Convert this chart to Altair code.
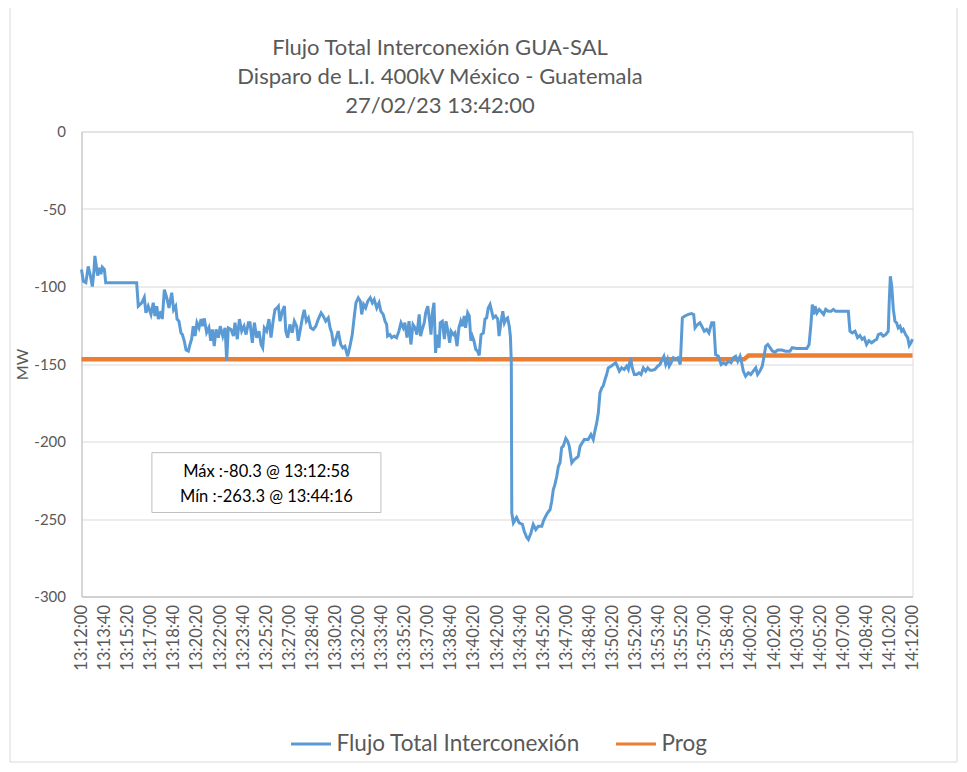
import altair as alt
import pandas as pd

# ---- data (seconds after 13:12:00, MW) ----
flujo_seg = [
    0, 8, 19, 29, 37, 47, 54, 58, 70, 77,
    84, 90, 99, 105, 239, 246, 261, 272, 279, 289,
    301, 311, 318, 326, 333, 344, 350, 359, 369, 379,
    391, 399, 408, 414, 422, 431, 437, 445, 453, 463,
    470, 477, 484, 492, 500, 509, 518, 525, 532, 542,
    552, 560, 567, 575, 583, 593, 601, 612, 622, 629,
    636, 648, 658, 665, 675, 684, 694, 704, 713, 723,
    730, 740, 749, 759, 769, 778, 785, 792, 802, 812,
    821, 830, 838, 847, 853, 860, 870, 879, 885, 893,
    903, 913, 922, 932, 939, 948, 957, 965, 974, 983,
    993, 1004, 1015, 1026, 1038, 1047, 1058, 1069, 1077, 1084,
    1093, 1102, 1112, 1123, 1132, 1141, 1153, 1163, 1173, 1182,
    1189, 1199, 1208, 1214, 1222, 1231, 1240, 1251, 1260, 1268,
    1279, 1289, 1297, 1307, 1315, 1322, 1326, 1336, 1344, 1354,
    1365, 1375, 1384, 1394, 1401, 1410, 1419, 1427, 1436, 1445,
    1453, 1463, 1469, 1476, 1485, 1491, 1500, 1507, 1514, 1520,
    1527, 1534, 1540, 1549, 1554, 1563, 1572, 1579, 1586, 1595,
    1601, 1611, 1618, 1627, 1635, 1643, 1650, 1658, 1664, 1673,
    1680, 1687, 1693, 1700, 1708, 1716, 1723, 1731, 1741, 1748,
    1755, 1762, 1770, 1777, 1784, 1794, 1803, 1809, 1817, 1825,
    1832, 1839, 1846, 1853, 1858, 1862, 1864, 1871, 1885, 1896,
    1910, 1918, 1929, 1936, 1947, 1957, 1968, 1979, 1994, 2001,
    2011, 2019, 2030, 2037, 2044, 2051, 2059, 2066, 2073, 2080,
    2087, 2098, 2106, 2113, 2124, 2135, 2145, 2152, 2160, 2169,
    2178, 2188, 2195, 2207, 2217, 2224, 2232, 2239, 2246, 2254,
    2260, 2268, 2275, 2282, 2294, 2304, 2314, 2321, 2330, 2340,
    2351, 2362, 2369, 2379, 2386, 2395, 2405, 2415, 2424, 2434,
    2444, 2453, 2463, 2473, 2484, 2496, 2506, 2516, 2523, 2531,
    2539, 2546, 2554, 2564, 2574, 2583, 2594, 2603, 2614, 2629,
    2643, 2652, 2658, 2669, 2679, 2687, 2698, 2708, 2718, 2730,
    2739, 2747, 2759, 2771, 2781, 2791, 2802, 2814, 2824, 2834,
    2843, 2853, 2860, 2867, 2877, 2889, 2899, 2910, 2921, 2929,
    2939, 2949, 2957, 2964, 2973, 2983, 2993, 3004, 3016, 3033,
    3051, 3069, 3079, 3098, 3120, 3142, 3152, 3160, 3166, 3172,
    3178, 3186, 3196, 3207, 3215, 3224, 3235, 3247, 3257, 3267,
    3322, 3329, 3339, 3351, 3362, 3372, 3382, 3391, 3401, 3411,
    3423, 3434, 3445, 3452, 3463, 3473, 3484, 3495, 3499, 3504,
    3510, 3517, 3524, 3531, 3538, 3546, 3553, 3560, 3570, 3579,
    3586, 3593, 3600,
]
flujo_mw = [
    -89, -96.6, -97.5, -87, -92, -100, -90, -80.3, -93, -88,
    -92, -87.5, -89, -97.6, -97.6, -112.7, -110.5, -107, -117, -112.7,
    -118, -110.5, -119, -112.7, -121, -116, -121, -102, -107, -113.8,
    -104, -115, -112.7, -121, -122.4, -130, -131, -135, -141, -141.7,
    -137.4, -134, -125.6, -132, -123.4, -126.7, -121, -125.6, -120.6, -129.7,
    -126.5, -135, -127.7, -138.5, -127.7, -133, -125.6, -132, -126.7, -148,
    -126.7, -127.7, -132, -123.4, -134, -121, -128.8, -125.6, -131, -123.4,
    -123.4, -136.3, -123.4, -133, -128.8, -137.4, -139.5, -126.7, -128.8, -121,
    -133, -122.4, -115, -113.8, -112.7, -122.4, -116, -112.7, -128.8, -133,
    -124.5, -129.9, -122.4, -125.6, -135, -127.7, -120.2, -115, -122.4, -120.2,
    -126.7, -127.7, -125.6, -121, -117, -119, -122.4, -120.2, -126.7, -129.9,
    -138.5, -134, -128.8, -137.4, -139.5, -138.5, -145, -138.5, -131, -119,
    -110.5, -107.3, -109.5, -118, -111.6, -113.8, -109.5, -107.3, -110.5, -108.4,
    -113.8, -110.5, -116, -118, -122.4, -124.5, -132, -131, -133, -132,
    -133, -128.8, -123.4, -126.7, -123.4, -133, -122.4, -137.4, -124.5, -126.7,
    -131, -118, -132, -127.7, -123.4, -117, -112.7, -121, -131, -117,
    -110.5, -142.8, -131, -139.5, -123.4, -122.4, -134, -122.4, -127.7, -136.3,
    -128.8, -131, -129.9, -138.5, -126.7, -122.4, -125.6, -119, -126.7, -117,
    -119, -135, -132, -135, -140.6, -141.7, -144.5, -131, -129.9, -121,
    -120.2, -113.8, -111.6, -116, -120.2, -119, -121, -132, -123.4, -116,
    -123.4, -121, -120.2, -125.6, -132, -149, -246, -252.5, -249, -252.5,
    -253.5, -257.9, -262, -263.3, -259, -253.5, -256.8, -254.6, -254.6, -251.4,
    -248.2, -246, -243.9, -238.5, -231, -227.7, -222.4, -216, -213.7, -204,
    -203, -198, -199.8, -203, -213.7, -211.6, -210.5, -209.5, -203, -200.9,
    -198.7, -198.7, -198.7, -195.5, -198.7, -193.3, -188, -181.5, -168.6, -165.4,
    -164.3, -160, -156.8, -152.5, -151.4, -150.3, -149.2, -151.4, -154.6, -152.5,
    -153.5, -151.4, -153.5, -146, -152.5, -156.8, -156.8, -155.7, -156.8, -152.5,
    -154.6, -152.5, -154, -154, -153.5, -151.4, -150.3, -147, -145, -150.3,
    -147, -151.4, -149.2, -146, -147, -146, -150.3, -120.2, -119, -118,
    -117.4, -118, -126.7, -124.5, -123.4, -125.6, -128.8, -127.7, -129.9, -123.4,
    -123.4, -143.9, -145, -150.3, -149.2, -150.3, -148.2, -149.2, -146, -145,
    -148.2, -145, -149.2, -154.6, -157.9, -155.7, -156.8, -154.6, -152.5, -156.8,
    -154.6, -151.4, -145, -138.5, -137.4, -139.5, -141.7, -142.4, -141, -141,
    -141.7, -141.7, -139.5, -140, -140, -140, -137.4, -124.5, -111.6, -118,
    -112.7, -117, -114.8, -116.6, -118, -114.8, -116, -116, -114.8, -116,
    -116, -128.8, -129.9, -128.8, -133, -131.6, -134, -133, -137.4, -135,
    -136.3, -135, -134, -131, -130.3, -132, -131, -128.8, -110.5, -93.4,
    -99.8, -114.8, -122.4, -123.4, -126.7, -125.6, -128.8, -127.7, -131, -133,
    -138, -136.3, -134,
]
assert len(flujo_seg) == len(flujo_mw)

prog_seg = [0, 2870, 2890, 3600]
prog_mw = [-147, -147, -144.5, -144.5]

series_names = ["Flujo Total Interconexión", "Prog"]
series_colors = ["#5B9BD5", "#ED7D31"]

title_lines = [
    "Flujo Total Interconexión GUA-SAL",
    "Disparo de L.I. 400kV México - Guatemala",
    "27/02/23 13:42:00",
]
note_lines = ["Máx :-80.3 @ 13:12:58", "Mín :-263.3 @ 13:44:16"]
y_ticks = [0, -50, -100, -150, -200, -250, -300]
x_tick_seg = list(range(0, 3601, 100))   # one label every 1:40

# annotation box placement (seconds after 13:12:00, MW)
note_box = {"s1": 305, "s2": 1297, "y1": -207.2, "y2": -245.8}
note_text_s = 801
note_text_y = [-219.6, -235.8]

# ---- tables ----
df = pd.concat([
    pd.DataFrame({"s": flujo_seg, "mw": flujo_mw, "serie": series_names[0]}),
    pd.DataFrame({"s": prog_seg, "mw": prog_mw, "serie": series_names[1]}),
])
df_box = pd.DataFrame([note_box])
df_txt = pd.DataFrame({"s": [note_text_s] * 2, "y": note_text_y, "txt": note_lines})

FONT = "Lato"
GRAY = "#595959"

x_scale = alt.Scale(domain=[0, 3600], nice=False, zero=False)
y_scale = alt.Scale(domain=[-300, 0], nice=False)

x_axis = alt.Axis(values=x_tick_seg, tickCount=40,
                  labelExpr="timeFormat(datetime(2023, 1, 27, 13, 12, datum.value), '%H:%M:%S')",
                  labelAngle=270, labelFont=FONT, labelFontSize=16.5,
                  labelColor=GRAY, labelPadding=8, ticks=False, grid=False,
                  domainColor="#bfbfbf", title=None, labelOverlap=False,
                  labelFlush=False, labelBound=False)
y_axis = alt.Axis(values=y_ticks, tickCount=10, labelExpr="'' + datum.value",
                  labelFont=FONT, labelFontSize=15,
                  labelColor=GRAY, labelPadding=16, ticks=False,
                  gridColor="#d9d9d9", domainColor="#bfbfbf",
                  title="MW", titleFont=FONT, titleFontSize=16,
                  titleFontWeight="normal", titleColor=GRAY, titlePadding=3)

color = alt.Color("serie:N",
                  scale=alt.Scale(domain=series_names, range=series_colors),
                  legend=alt.Legend(title=None, orient="none", direction="horizontal",
                                    legendX=208, legendY=591,
                                    labelFont=FONT, labelFontSize=22.5,
                                    labelColor=GRAY, labelLimit=0,
                                    symbolType="stroke",
                                    symbolSize=1600, symbolStrokeWidth=3,
                                    columnPadding=29, labelOffset=4, padding=0))

prog = alt.Chart(df).transform_filter(
    alt.datum.serie == series_names[1]
).mark_line(strokeWidth=4.5).encode(
    x=alt.X("s:Q", scale=x_scale, axis=x_axis),
    y=alt.Y("mw:Q", scale=y_scale, axis=y_axis),
    color=color,
)
flujo = alt.Chart(df).transform_filter(
    alt.datum.serie == series_names[0]
).mark_line(strokeWidth=3).encode(
    x=alt.X("s:Q", scale=x_scale),
    y=alt.Y("mw:Q", scale=y_scale),
    color=color,
)
box = alt.Chart(df_box).mark_rect(fill="white", stroke="#bfbfbf", strokeWidth=1).encode(
    x="s1:Q", x2="s2:Q", y="y1:Q", y2="y2:Q")
txt = alt.Chart(df_txt).mark_text(font=FONT, fontSize=16.5, color="#000000",
                                  align="center", baseline="middle").encode(
    x="s:Q", y="y:Q", text="txt:N")

# light outer frame of the chart area (decoration only)
frame = alt.Chart(df_box).mark_rect(fill=None, stroke="#d9d9d9", strokeWidth=1,
                                    clip=False).encode(
    x=alt.value(-71.5), x2=alt.value(875.5), y=alt.value(-140), y2=alt.value(630.5))

chart = alt.layer(frame, prog, flujo, box, txt).properties(
    width=831, height=465,
    autosize=alt.AutoSizeParams(type="none"),
    padding={"left": 73.5, "top": 123.5, "right": 46, "bottom": 170},
    title=alt.TitleParams(text=title_lines, font=FONT, fontSize=22, lineHeight=29,
                          fontWeight="normal", color=GRAY, anchor="middle",
                          dx=-57, offset=-127),
).configure_view(stroke="#d9d9d9").configure(background="white")

chart.save("out.html", embed_options={"renderer": "svg", "actions": False})
